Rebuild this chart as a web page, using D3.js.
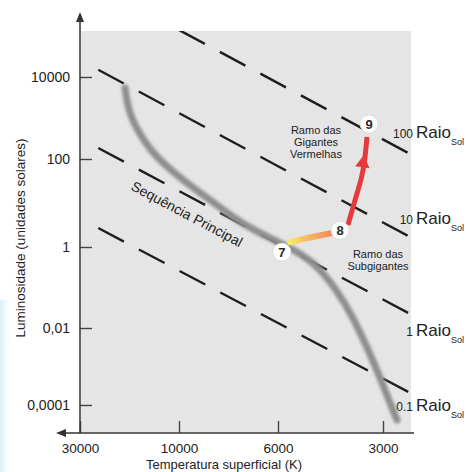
<!DOCTYPE html>
<html><head><meta charset="utf-8">
<script src="https://cdn.jsdelivr.net/npm/d3@7"></script>
<style>
body{margin:0;background:#fff}
svg{display:block}
text{font-family:"Liberation Sans",Arial,Helvetica,sans-serif}
</style>
</head><body><div id="chart"></div>
<script>
// ---------- data ----------
const tempTicks = [30000, 10000, 6000, 3000];
const tempTickLabels = ["30000", "10000", "6000", "3000"];
const lumTicks = [10000, 100, 1, 0.01, 0.0001];
const lumTickLabels = ["10000", "100", "1", "0,01", "0,0001"];

// main sequence band (temperature K, luminosity L_sun)
const mainSequence = [[18200,5400],[17600,1570],[15900,510],[13800,166],[11400,65.8],[9600,28.5],[8520,11.7],[7570,4.8],[6830,2.43],[5700,1.1],[4750,0.45],[4065,0.0867],[3658,0.0187],[3335,0.0032],[3060,0.00053],[2865,0.000113],[2735,0.000041]];

// constant radius lines (start, end) in (T, L)
const radiusValues = ["100", "10", "1", "0.1"];
const radiusStart = [[24500,1.6e6],[24500,1.5e4],[24500,185],[24500,2.7]];
const radiusEnd = [[2540,140],[2540,1.78],[2540,0.0235],[2540,0.00022]];

// evolutionary track
const subgiantBranch = [[5545,1.3],[4900,1.62],[4200,2.08]];
const redGiantBranch = [[3780,3.16],[3610,11.7],[3445,39],[3380,95],[3335,344]];
const arrowPoint = [3425, 81];
const stageLabels = ["7", "8", "9"];
const stageT = [5845, 3985, 3290];
const stageL = [0.75, 2.4, 714];

const yTitle = "Luminosidade (unidades solares)";
const xTitle = "Temperatura superficial (K)";
const msLabel = "Sequência Principal";
const rgLabel = ["Ramo das", "Gigantes", "Vermelhas"];
const sgLabel = ["Ramo das", "Subgigantes"];

// ---------- chart ----------
const W = 472, H = 472;
const svg = d3.select("#chart").append("svg").attr("width", W).attr("height", H);
const defs = svg.append("defs");

const x = d3.scaleLog().domain(tempTicks).range([80, 179, 278, 383]);
const y = d3.scaleLog().domain(lumTicks).range([77, 159, 247, 328, 405]);

const panel = {x0: 81, y0: 31, x1: 411, y1: 432};

// faint blue tint on left edge
const lg = defs.append("linearGradient").attr("id","edge").attr("x1",0).attr("x2",1);
lg.append("stop").attr("offset",0).attr("stop-color","#d8f0f8");
lg.append("stop").attr("offset",1).attr("stop-color","#ffffff").attr("stop-opacity",0);
svg.append("rect").attr("x",0).attr("y",300).attr("width",14).attr("height",172).attr("fill","url(#edge)");

svg.append("rect").attr("x", panel.x0).attr("y", panel.y0)
  .attr("width", panel.x1 - panel.x0).attr("height", panel.y1 - panel.y0)
  .attr("fill", "#e5e5e5");

defs.append("clipPath").attr("id","clip").append("rect")
  .attr("x", panel.x0).attr("y", panel.y0)
  .attr("width", panel.x1 - panel.x0).attr("height", panel.y1 - panel.y0);

const blur = defs.append("filter").attr("id","blur").attr("x","-20%").attr("y","-20%").attr("width","140%").attr("height","140%");
blur.append("feGaussianBlur").attr("stdDeviation", 1.7);

const line = d3.line().x(d => x(d[0])).y(d => y(d[1])).curve(d3.curveCatmullRom);

// radius dashed lines
const gLines = svg.append("g").attr("clip-path","url(#clip)");
radiusValues.forEach((v, i) => {
  gLines.append("line")
    .attr("x1", x(radiusStart[i][0])).attr("y1", y(radiusStart[i][1]))
    .attr("x2", x(radiusEnd[i][0])).attr("y2", y(radiusEnd[i][1]))
    .attr("stroke", "#1e1e1e").attr("stroke-width", 2.4)
    .attr("stroke-dasharray", "29,17");
});

// main sequence band
svg.append("path").datum(mainSequence).attr("d", line.curve(d3.curveBasis))
  .attr("fill","none").attr("stroke","#8e8e8e").attr("stroke-width",7)
  .attr("stroke-linecap","round").attr("filter","url(#blur)");

// subgiant branch gradient
const sg = defs.append("linearGradient").attr("id","sg").attr("gradientUnits","userSpaceOnUse")
  .attr("x1", x(subgiantBranch[0][0])).attr("x2", x(subgiantBranch[subgiantBranch.length-1][0]))
  .attr("y1", y(subgiantBranch[0][1])).attr("y2", y(subgiantBranch[subgiantBranch.length-1][1]));
sg.append("stop").attr("offset",0).attr("stop-color","#f7ea62");
sg.append("stop").attr("offset",0.45).attr("stop-color","#f6b763");
sg.append("stop").attr("offset",1).attr("stop-color","#f08a5a");

svg.append("path").datum(subgiantBranch).attr("d", line.curve(d3.curveCatmullRom))
  .attr("fill","none").attr("stroke","url(#sg)").attr("stroke-width",6).attr("stroke-linecap","round");

svg.append("path").datum(redGiantBranch).attr("d", line.curve(d3.curveBasis))
  .attr("fill","none").attr("stroke","#e63a3c").attr("stroke-width",5).attr("stroke-linecap","butt");

svg.append("path")
  .attr("d", d3.symbol().type(d3.symbolTriangle).size(90)())
  .attr("transform", `translate(${x(arrowPoint[0])},${y(arrowPoint[1])}) rotate(8)`)
  .attr("fill","#e63a3c");

// stage markers
stageLabels.forEach((s, i) => {
  const g = svg.append("g").attr("transform", `translate(${x(stageT[i])},${y(stageL[i])})`);
  g.append("circle").attr("r", 9).attr("fill","#fff").attr("stroke","#d8d8d8").attr("stroke-width",0.8);
  g.append("text").attr("text-anchor","middle").attr("dy","0.36em")
    .attr("font-size",13).attr("font-weight","bold").attr("fill","#2a2a2a").text(s);
});

// axes
const yAxis = d3.axisLeft(y).tickValues(lumTicks).tickFormat((d,i) => lumTickLabels[i])
  .tickSize(-12).tickPadding(10);
const gy = svg.append("g").attr("transform","translate(80,0)").call(yAxis);
gy.select(".domain").remove();
gy.selectAll(".tick line").attr("stroke","#444").attr("stroke-width",1.4);
gy.selectAll(".tick text").attr("font-size",14).attr("fill","#222").attr("font-family",null);

const xAxis = d3.axisBottom(x).tickValues(tempTicks).tickFormat((d,i) => tempTickLabels[i])
  .tickSize(-12).tickPadding(10);
const gx = svg.append("g").attr("transform","translate(0,433)").call(xAxis);
gx.select(".domain").remove();
gx.selectAll(".tick line").attr("stroke","#444").attr("stroke-width",1.4);
gx.selectAll(".tick text").attr("font-size",13.5).attr("fill","#222").attr("font-family",null);

// axis lines with arrows
svg.append("line").attr("x1",80).attr("y1",433).attr("x2",80).attr("y2",20).attr("stroke","#333").attr("stroke-width",1.5);
svg.append("path").attr("d","M80,12 L76,22 L84,22 Z").attr("fill","#333");
svg.append("line").attr("x1",414).attr("y1",433).attr("x2",64).attr("y2",433).attr("stroke","#333").attr("stroke-width",1.5);
svg.append("path").attr("d","M56,433 L66,429 L66,437 Z").attr("fill","#333");

// axis titles
svg.append("text").attr("transform","translate(25,238) rotate(-90)").attr("text-anchor","middle")
  .attr("font-size",13.5).attr("fill","#222").text(yTitle);
svg.append("text").attr("x",224).attr("y",469).attr("text-anchor","middle")
  .attr("font-size",13).attr("fill","#222").text(xTitle);

// annotations
svg.append("text").attr("transform","translate(187,214) rotate(28)").attr("text-anchor","middle")
  .attr("dy","0.35em").attr("font-size",14).attr("fill","#222").text(msLabel);

const rg = svg.append("text").attr("text-anchor","middle").attr("font-size",11).attr("fill","#222");
rgLabel.forEach((t,i) => rg.append("tspan").attr("x",316).attr("y",134 + i*12).text(t));
const sgl = svg.append("text").attr("text-anchor","middle").attr("font-size",11).attr("fill","#222");
sgLabel.forEach((t,i) => sgl.append("tspan").attr("x",378).attr("y",258 + i*12).text(t));

// radius labels
const radiusBaselines = [138, 224, 336, 411];
radiusValues.forEach((v, i) => {
  const b = radiusBaselines[i];
  svg.append("text").attr("x",413).attr("y",b).attr("text-anchor","end")
    .attr("font-size",12).attr("fill","#222").text(v);
  const t = svg.append("text").attr("x",416).attr("y",b).attr("fill","#222");
  t.append("tspan").attr("font-size",17).text("Raio");
  t.append("tspan").attr("font-size",9).attr("dy",7).text("Sol");
});
</script>
</body></html>
